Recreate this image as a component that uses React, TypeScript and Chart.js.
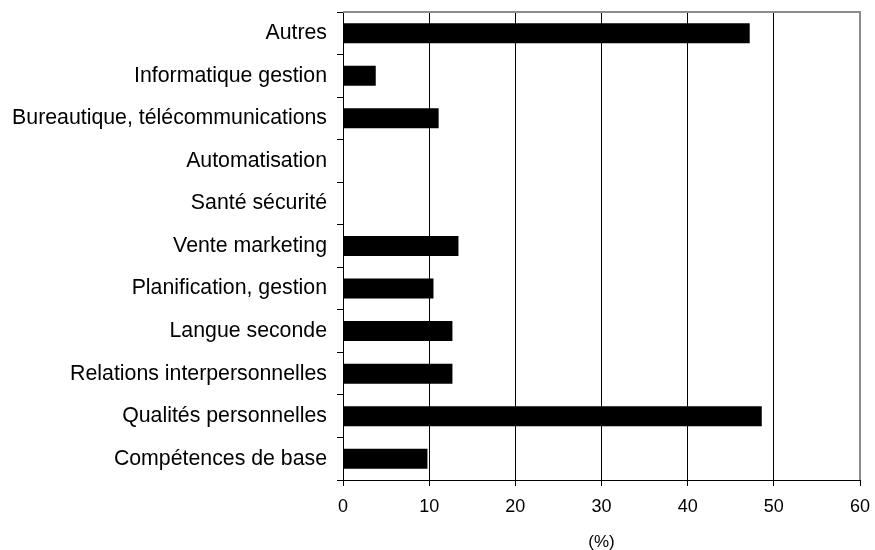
import React, { useEffect, useRef } from "react";
import { Chart, registerables } from "chart.js";

Chart.register(...registerables);

const categories: string[] = [
  "Autres",
  "Informatique gestion",
  "Bureautique, télécommunications",
  "Automatisation",
  "Santé sécurité",
  "Vente marketing",
  "Planification, gestion",
  "Langue seconde",
  "Relations interpersonnelles",
  "Qualités personnelles",
  "Compétences de base",
];

const percentValues: number[] = [47.2, 3.8, 11.1, 0, 0, 13.4, 10.5, 12.7, 12.7, 48.6, 9.8];

const xMin = 0;
const xMax = 60;
const xStep = 10;
const xAxisTitle = "(%)";

const FONT = "'Liberation Sans', Arial, sans-serif";

const borderPlugin = {
  id: "topRightBorder",
  afterDraw(chart: any) {
    const { ctx, chartArea } = chart;
    ctx.save();
    ctx.strokeStyle = "#8c8c8c";
    ctx.lineWidth = 2;
    ctx.beginPath();
    ctx.moveTo(chartArea.left, chartArea.top);
    ctx.lineTo(chartArea.right, chartArea.top);
    ctx.lineTo(chartArea.right, chartArea.bottom);
    ctx.stroke();
    ctx.restore();
  },
};

export default function App() {
  const canvasRef = useRef<HTMLCanvasElement | null>(null);

  useEffect(() => {
    if (!canvasRef.current) return;
    const chart = new Chart(canvasRef.current, {
      type: "bar",
      data: {
        labels: categories,
        datasets: [
          {
            data: percentValues,
            backgroundColor: "#000000",
            borderWidth: 0,
            barPercentage: 0.47,
            categoryPercentage: 1,
          },
        ],
      },
      options: {
        indexAxis: "y",
        animation: false,
        responsive: true,
        maintainAspectRatio: false,
        layout: { padding: { left: 0, top: 12, right: 15, bottom: 0 } },
        plugins: {
          legend: { display: false },
          tooltip: { enabled: false },
        },
        scales: {
          x: {
            type: "linear",
            min: xMin,
            max: xMax,
            ticks: {
              stepSize: xStep,
              color: "#000",
              padding: 10,
              font: { family: FONT, size: 18 },
            },
            grid: {
              color: (c: any) => (c.tick && c.tick.value === xMax ? "rgba(0,0,0,0)" : "#000"),
              lineWidth: 1,
              tickLength: 6,
              tickColor: "#000",
            },
            border: { display: true, color: "#000", width: 1 },
            title: {
              display: true,
              text: xAxisTitle,
              color: "#000",
              font: { family: FONT, size: 17, lineHeight: 0.9 },
              padding: { top: 0, bottom: 0 },
            },
            afterFit: (scale: any) => {
              scale.height = 70;
              scale.paddingLeft = 0;
              scale.paddingRight = 15;
            },
          },
          y: {
            type: "category",
            offset: true,
            ticks: {
              color: "#000",
              padding: 10,
              font: { family: FONT, size: 21.3 },
            },
            grid: {
              offset: true,
              drawOnChartArea: false,
              drawTicks: true,
              tickLength: 6,
              color: "#000",
              tickColor: "#000",
            },
            border: { display: true, color: "#000", width: 1 },
            afterFit: (scale: any) => {
              scale.width = 343;
              scale.paddingTop = 12;
              scale.paddingBottom = 0;
            },
          },
        },
      },
      plugins: [borderPlugin],
    });
    return () => chart.destroy();
  }, []);

  return (
    <div style={{ position: "fixed", left: 0, top: 0, width: 875, height: 550, background: "#fff" }}>
      <canvas ref={canvasRef} />
    </div>
  );
}
